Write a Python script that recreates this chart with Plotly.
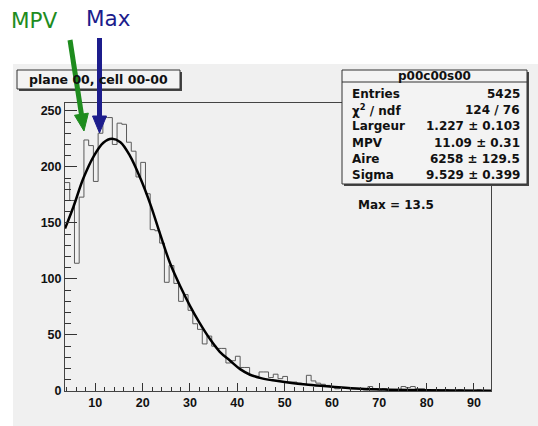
import math
import plotly.graph_objects as go

# ---------------- data ----------------
bin_start = 3.6
bin_width = 1.0
counts = [186, 170, 114, 173, 224, 219, 187, 230, 244, 244, 220, 239, 238, 222, 214, 191, 204, 176, 144, 143,
          132, 97, 112, 96, 80, 86, 72, 60, 55, 42, 49, 40, 38, 38, 25, 27, 31, 21, 21, 14,
          13, 17, 17, 12, 15, 11, 13, 8, 8, 7, 6, 14, 9, 7, 6, 5, 4, 2, 3, 3,
          2, 2, 2, 1, 4, 2, 1, 2, 1, 1, 1, 4, 3, 4, 2, 2, 1, 0, 1, 0,
          1, 0, 0, 1, 0, 0, 0, 1, 0, 0]

fit_x = [3.6, 5.35, 7.5, 9.6, 11.7, 13.5, 15.3, 17.3, 19.5, 21.6, 23.7, 25.8, 28, 30, 32, 34.2,
         36.3, 38.5, 40.6, 42.7, 45, 47.5, 50, 55, 60, 66, 72, 80, 93.6]
fit_y = [145, 164, 190, 209, 221.5, 225, 222, 210, 190, 167, 140, 114, 93, 76, 61, 46.5,
         35, 27, 19.5, 14.5, 11.5, 9.5, 8, 5.5, 3.8, 2, 1.2, 0.6, 0.2]

x_range = [3.6, 93.6]
y_range = [0, 257]
x_ticks = [10, 20, 30, 40, 50, 60, 70, 80, 90]
y_ticks = [0, 50, 100, 150, 200, 250]

hist_title = "plane 00, cell 00-00"
stats_name = "p00c00s00"
stats_labels = ["Entries", "\u03c7<sup>2</sup> / ndf", "Largeur", "MPV", "Aire", "Sigma"]
stats_values = ["5425", "124 / 76", "1.227 \u00b1 0.103", "11.09 \u00b1 0.31",
                "6258 \u00b1 129.5", "9.529 \u00b1 0.399"]
max_text = "Max = 13.5"

# ---------------- geometry helpers ----------------
W, H = 538, 426
L, R, T, B = 65, 47, 103, 35
PW = W - L - R
PH = H - T - B


def px(x):
    return (x - L) / PW


def py(y):
    return (H - B - y) / PH


def arrow_shapes(x0, y0, x1, y1, color, width=5, head_len=17, head_half=7):
    dx, dy = x1 - x0, y1 - y0
    n = math.hypot(dx, dy)
    ux, uy = dx / n, dy / n
    bx, by = x1 - ux * head_len, y1 - uy * head_len
    nx, ny = -uy, ux
    p1 = (bx + nx * head_half, by + ny * head_half)
    p2 = (bx - nx * head_half, by - ny * head_half)
    path = "M {:.5f},{:.5f} L {:.5f},{:.5f} L {:.5f},{:.5f} Z".format(
        px(x1), py(y1), px(p1[0]), py(p1[1]), px(p2[0]), py(p2[1]))
    return [
        dict(type="line", xref="paper", yref="paper", x0=px(x0), y0=py(y0),
             x1=px(bx + ux * 2), y1=py(by + uy * 2), line=dict(color=color, width=width),
             layer="above"),
        dict(type="path", xref="paper", yref="paper", path=path, fillcolor=color,
             line=dict(color=color, width=1), layer="above"),
    ]


edges = [bin_start + i * bin_width for i in range(len(counts) + 1)]
step_y = counts + [counts[-1]]

fig = go.Figure()
fig.add_trace(go.Scatter(x=edges, y=step_y, mode="lines", line_shape="hv",
                         line=dict(color="#5a5a5a", width=1), hoverinfo="skip"))
fig.add_trace(go.Scatter(x=fit_x, y=fit_y, mode="lines", line_shape="spline",
                         line=dict(color="#000000", width=2.5), hoverinfo="skip"))

BG = "#f0f0f0"
BOX = "#f3f3f3"
GREEN = "#1e8c1e"
NAVY = "#1c1c8c"
shapes = [
    dict(type="rect", xref="paper", yref="paper", x0=px(13), x1=px(W + 5), y0=py(H + 5), y1=py(64),
         fillcolor=BG, line=dict(width=0), layer="below"),
    # title box
    dict(type="rect", xref="paper", yref="paper", x0=px(19), x1=px(182), y0=py(91), y1=py(72),
         fillcolor="#444444", line=dict(width=0), layer="above"),
    dict(type="rect", xref="paper", yref="paper", x0=px(17), x1=px(180), y0=py(89), y1=py(70),
         fillcolor=BOX, line=dict(color="#333333", width=1), layer="above"),
    # stats box
    dict(type="rect", xref="paper", yref="paper", x0=px(344), x1=px(529), y0=py(186), y1=py(72),
         fillcolor="#444444", line=dict(width=0), layer="above"),
    dict(type="rect", xref="paper", yref="paper", x0=px(342), x1=px(527), y0=py(184), y1=py(70),
         fillcolor=BOX, line=dict(color="#333333", width=1), layer="above"),
    dict(type="line", xref="paper", yref="paper", x0=px(342), x1=px(527), y0=py(82), y1=py(82),
         line=dict(color="#333333", width=1), layer="above"),
]
shapes += arrow_shapes(70, 40, 84, 131, GREEN)
shapes += arrow_shapes(99.5, 38, 99.5, 133, NAVY)

BOLD = dict(family="DejaVu Sans", size=12, color="#111111", weight="bold")
ann = []
ann.append(dict(x=px(98.5), y=py(79.5), text=hist_title, xanchor="center", yanchor="middle",
                font=dict(family="DejaVu Sans", size=12.5, color="#111111", weight="bold")))
ann.append(dict(x=px(434.5), y=py(76), text=stats_name, xanchor="center", yanchor="middle",
                font=BOLD))
row_y = [94, 110.2, 126.4, 142.6, 158.8, 175]
for lab, val, yy in zip(stats_labels, stats_values, row_y):
    ann.append(dict(x=px(350), y=py(yy), text=lab, xanchor="left", yanchor="middle", font=BOLD))
    ann.append(dict(x=px(522), y=py(yy), text=val, xanchor="right", yanchor="middle", font=BOLD))
ann.append(dict(x=px(356), y=py(205), text=max_text, xanchor="left", yanchor="middle", font=BOLD))

ann.append(dict(x=px(9), y=py(21), text="MPV", xanchor="left", yanchor="middle",
                font=dict(family="DejaVu Sans", size=21.5, color=GREEN)))
ann.append(dict(x=px(84), y=py(18), text="Max", xanchor="left", yanchor="middle",
                font=dict(family="DejaVu Sans", size=21.5, color=NAVY)))
for a in ann:
    a.update(xref="paper", yref="paper", showarrow=False)

TICKFONT = dict(family="Liberation Sans", size=12.5, color="#111111", weight="bold")
fig.update_layout(
    width=W, height=H,
    margin=dict(l=L, r=R, t=T, b=B, pad=0),
    paper_bgcolor="white", plot_bgcolor=BG,
    showlegend=False,
    shapes=shapes, annotations=ann,
    xaxis=dict(range=x_range, tickvals=x_ticks, ticks="inside", ticklen=8, tickcolor="#333333",
               showgrid=False, zeroline=False, showline=True, mirror=True, linecolor="#444444",
               linewidth=1, tickfont=TICKFONT,
               minor=dict(dtick=2, tick0=0, ticks="inside", ticklen=4, tickcolor="#333333",
                          showgrid=False)),
    yaxis=dict(range=y_range, tickvals=y_ticks, ticks="inside", ticklen=12, tickcolor="#333333",
               showgrid=False, zeroline=False, showline=True, mirror=True, linecolor="#444444",
               linewidth=1, tickfont=TICKFONT,
               minor=dict(dtick=10, tick0=0, ticks="inside", ticklen=6, tickcolor="#333333",
                          showgrid=False)),
)

fig.write_html("out.html")
